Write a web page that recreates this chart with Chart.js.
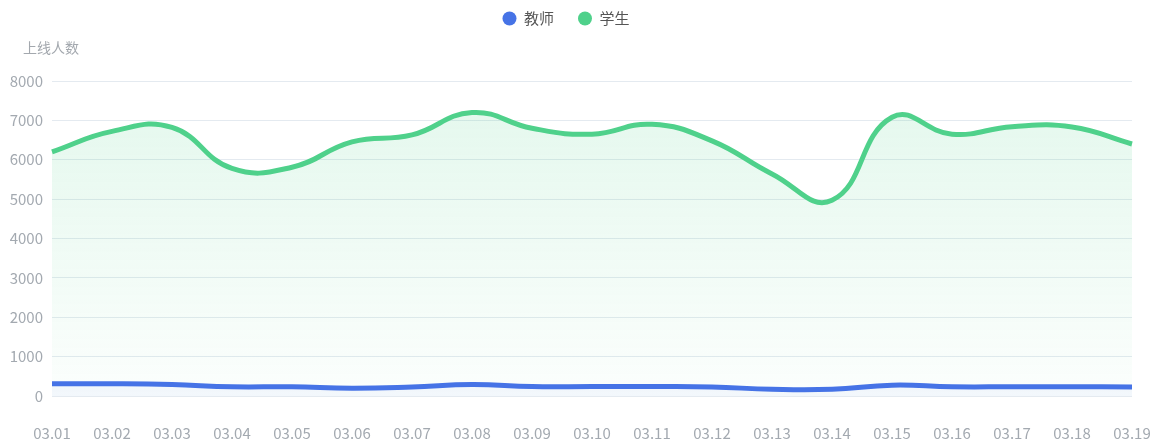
<!DOCTYPE html>
<html>
<head>
<meta charset="utf-8">
<script src="https://cdn.jsdelivr.net/npm/chart.js@4.4.1/dist/chart.umd.min.js"></script>
<style>
  html, body { margin: 0; padding: 0; background: #fff; overflow: hidden; }
  canvas { display: block; }
</style>
</head>
<body>
<canvas id="c" width="1161" height="448"></canvas>
<script>
// 日期
const days = ['03.01', '03.02', '03.03', '03.04', '03.05', '03.06', '03.07', '03.08', '03.09', '03.10',
  '03.11', '03.12', '03.13', '03.14', '03.15', '03.16', '03.17', '03.18', '03.19'];

// 上线人数
const teachers = [310, 310, 290, 235, 235, 200, 230, 290, 240, 240, 240, 230, 170, 170, 275, 235, 235, 235, 230];
const students = [6200, 6720, 6820, 5780, 5810, 6455, 6630, 7200, 6800, 6650, 6900, 6480, 5640, 4970, 7080, 6650, 6840, 6830, 6400];

const yTicks = [0, 1000, 2000, 3000, 4000, 5000, 6000, 7000, 8000];
const yTitle = '上线人数';

const font = "'Noto Sans CJK SC', 'Noto Sans', sans-serif";

function greenFill(context) {
  const area = context.chart.chartArea;
  if (!area) return 'rgba(79, 209, 139, 0.1)';
  const g = context.chart.ctx.createLinearGradient(0, area.top, 0, area.bottom);
  g.addColorStop(0, 'rgba(79, 209, 139, 0.16)');
  g.addColorStop(1, 'rgba(79, 209, 139, 0.02)');
  return g;
}

// 图例下方留出空间
const legendGap = {
  id: 'legendGap',
  beforeInit(chart) {
    const fit = chart.legend.fit;
    chart.legend.fit = function () {
      fit.call(this);
      this.height += 45;
    };
  }
};

// y 轴名称横排显示
const yName = {
  id: 'yName',
  afterDraw(chart) {
    const ctx = chart.ctx;
    const area = chart.chartArea;
    ctx.save();
    ctx.font = "14px " + font;
    ctx.fillStyle = '#a3a8ae';
    ctx.textBaseline = 'middle';
    ctx.textAlign = 'left';
    ctx.fillText(yTitle, area.left - 29, area.top - 33);
    ctx.restore();
  }
};

new Chart(document.getElementById('c'), {
  type: 'line',
  data: {
    labels: days,
    datasets: [{
      label: '教师',
      data: teachers,
      borderColor: '#4673e6',
      backgroundColor: 'rgba(70, 115, 230, 0.05)',
      fill: 'origin',
      borderWidth: 5,
      pointRadius: 0,
      tension: 0.45
    }, {
      label: '学生',
      data: students,
      borderColor: '#4fd18b',
      backgroundColor: greenFill,
      fill: 'origin',
      borderWidth: 5,
      pointRadius: 0,
      tension: 0.45
    }]
  },
  plugins: [legendGap, yName],
  options: {
    responsive: false,
    animation: false,
    layout: { padding: { left: 0, right: 29, top: -13, bottom: 0 } },
    plugins: {
      legend: {
        position: 'top',
        labels: {
          usePointStyle: true,
          pointStyle: 'circle',
          boxWidth: 14,
          boxHeight: 10,
          pointStyleWidth: 14,
          padding: 24,
          color: '#555',
          font: { family: font, size: 15 },
          generateLabels: chart => chart.data.datasets.map((ds, i) => ({
            text: ds.label,
            fillStyle: ds.borderColor,
            strokeStyle: ds.borderColor,
            lineWidth: 0,
            pointStyle: 'circle',
            fontColor: '#555',
            hidden: !chart.isDatasetVisible(i),
            datasetIndex: i
          }))
        }
      },
      tooltip: { enabled: false }
    },
    scales: {
      x: {
        afterFit: scale => {
          scale.height = 52;
          scale.paddingLeft = 0;
          scale.paddingRight = 0;
        },
        grid: { display: false },
        border: { display: false },
        ticks: {
          color: '#a3a9b0',
          font: { family: font, size: 15 },
          padding: 20,
          maxRotation: 0,
          autoSkip: false
        }
      },
      y: {
        min: 0,
        max: 8000,
        afterFit: scale => { scale.width = 52; },
        afterBuildTicks: scale => { scale.ticks = yTicks.map(v => ({ value: v })); },
        grid: { color: '#e4eaf0', drawTicks: false },
        border: { display: false },
        ticks: {
          color: '#a3a9b0',
          font: { family: font, size: 15 },
          padding: 9,
          callback: v => String(v)
        }
      }
    }
  }
});
</script>
</body>
</html>
